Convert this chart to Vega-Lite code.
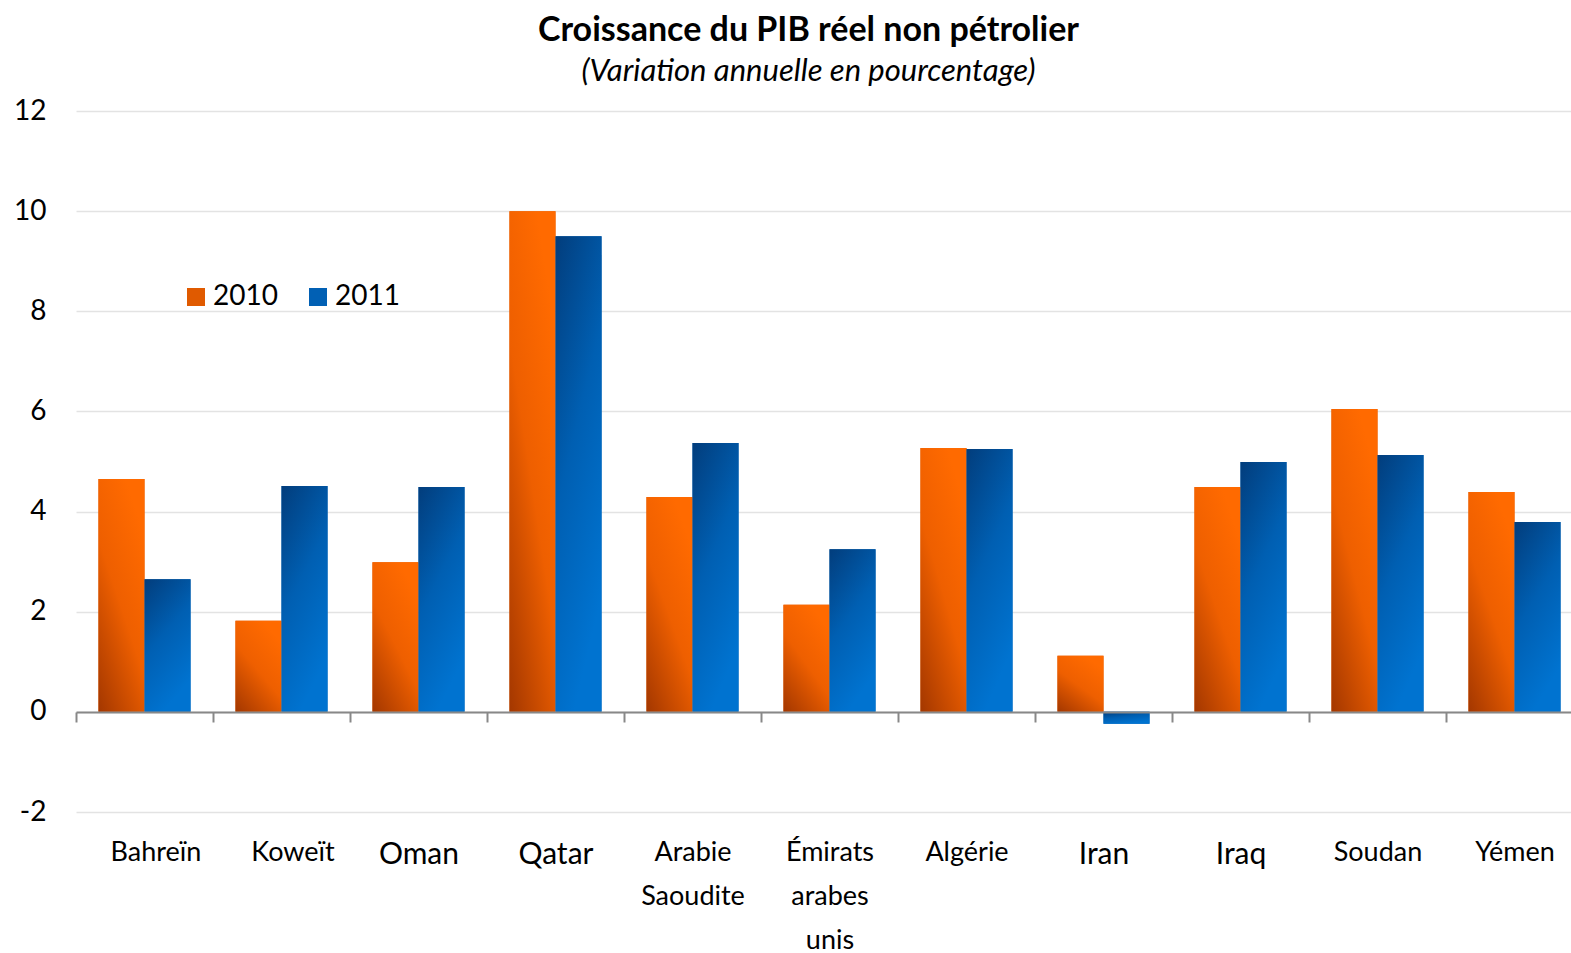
{
  "$schema": "https://vega.github.io/schema/vega-lite/v6.json",
  "autosize": "none",
  "padding": {"left": 76, "top": 111, "right": 0, "bottom": 141},
  "width": 1507,
  "height": 701,
  "background": "white",
  "title": {
    "text": "Croissance du PIB réel non pétrolier",
    "subtitle": "(Variation annuelle en pourcentage)",
    "font": "Lato",
    "fontSize": 34,
    "fontWeight": "bold",
    "color": "black",
    "subtitleFont": "Lato",
    "subtitleFontSize": 31,
    "subtitleFontStyle": "italic",
    "subtitleColor": "black",
    "subtitlePadding": 9,
    "anchor": "middle",
    "frame": "group",
    "dx": -21,
    "offset": 10
  },
  "data": {
    "values": [
      {"country": "Bahreïn", "year": "2010", "value": 4.65},
      {"country": "Bahreïn", "year": "2011", "value": 2.65},
      {"country": "Koweït", "year": "2010", "value": 1.82},
      {"country": "Koweït", "year": "2011", "value": 4.51},
      {"country": "Oman", "year": "2010", "value": 2.99},
      {"country": "Oman", "year": "2011", "value": 4.49},
      {"country": "Qatar", "year": "2010", "value": 10.0},
      {"country": "Qatar", "year": "2011", "value": 9.5},
      {"country": "Arabie Saoudite", "year": "2010", "value": 4.29},
      {"country": "Arabie Saoudite", "year": "2011", "value": 5.37},
      {"country": "Émirats arabes unis", "year": "2010", "value": 2.14},
      {"country": "Émirats arabes unis", "year": "2011", "value": 3.25},
      {"country": "Algérie", "year": "2010", "value": 5.27},
      {"country": "Algérie", "year": "2011", "value": 5.25},
      {"country": "Iran", "year": "2010", "value": 1.12},
      {"country": "Iran", "year": "2011", "value": -0.24},
      {"country": "Iraq", "year": "2010", "value": 4.49},
      {"country": "Iraq", "year": "2011", "value": 4.99},
      {"country": "Soudan", "year": "2010", "value": 6.05},
      {"country": "Soudan", "year": "2011", "value": 5.13},
      {"country": "Yémen", "year": "2010", "value": 4.39},
      {"country": "Yémen", "year": "2011", "value": 3.79}
    ]
  },
  "encoding": {
    "x": {
      "field": "country",
      "type": "nominal",
      "sort": null,
      "scale": {"paddingInner": 0.328, "paddingOuter": 0.164},
      "axis": {
        "title": null,
        "labelAngle": 0,
        "labelFont": "Lato",
        "labelFontSize": {"condition": {"test": "indexof(['Oman','Qatar','Iran','Iraq'], datum.value) >= 0", "value": 30}, "value": 27},
        "labelColor": "black",
        "labelExpr": "split(datum.label, ' ')",
        "labelLineHeight": 44,
        "labelBaseline": "top",
        "labelPadding": 117,
        "labelLimit": 300,
        "tickOffset": -68.5,
        "labelOffset": {"condition": {"test": "datum.value == 'Bahreïn' || datum.value == 'Koweït'", "value": 79.5}, "value": 68.5},
        "tickColor": "#888888",
        "tickWidth": 2,
        "tickSize": 10,
        "domainColor": "#888888",
        "domainWidth": 2,
        "offset": -100,
        "zindex": 1,
        "grid": false
      }
    },
    "xOffset": {"field": "year", "type": "nominal", "scale": {"paddingInner": 0, "paddingOuter": 0}},
    "y": {
      "field": "value",
      "type": "quantitative",
      "scale": {"domain": [-2, 12], "nice": false, "zero": false},
      "axis": {
        "title": null,
        "values": [-2, 0, 2, 4, 6, 8, 10, 12],
        "labelExpr": "replace(datum.label, '−', '-')",
        "labelFont": "Lato",
        "labelFontSize": 28,
        "labelColor": "black",
        "labelPadding": 30,
        "ticks": false,
        "domain": false,
        "gridColor": "#e3e3e3",
        "gridWidth": 1.5
      }
    }
  },
  "layer": [
    {
      "mark": {"type": "bar"},
      "encoding": {
        "color": {
          "field": "year",
          "type": "nominal",
          "scale": {"domain": ["2010", "2011"], "range": ["#e05a00", "#0160b4"]},
          "legend": {
            "title": null,
            "orient": "none",
            "direction": "horizontal",
            "legendX": 106,
            "legendY": 172,
            "labelFont": "Lato",
            "labelFontSize": 28,
            "labelColor": "black",
            "labelOffset": 3,
            "columnPadding": 26,
            "symbolType": "square",
            "symbolSize": 324,
            "symbolStrokeWidth": 0,
            "symbolOpacity": 1
          }
        }
      }
    },
    {
      "transform": [{"filter": "datum.year == '2010'"}],
      "mark": {
        "type": "bar",
        "color": {"gradient": "linear", "x1": 0, "y1": 1, "x2": 0.6, "y2": 0,
          "stops": [{"offset": 0, "color": "#a33700"}, {"offset": 0.55, "color": "#ee5f00"}, {"offset": 1, "color": "#ff6a00"}]}
      }
    },
    {
      "transform": [{"filter": "datum.year == '2011'"}],
      "mark": {
        "type": "bar",
        "color": {"gradient": "linear", "x1": 0, "y1": 0, "x2": 0.4, "y2": 1,
          "stops": [{"offset": 0, "color": "#023d7c"}, {"offset": 0.5, "color": "#005fb2"}, {"offset": 1, "color": "#0073d0"}]}
      }
    }
  ],
  "config": {
    "view": {"stroke": null}
  }
}
